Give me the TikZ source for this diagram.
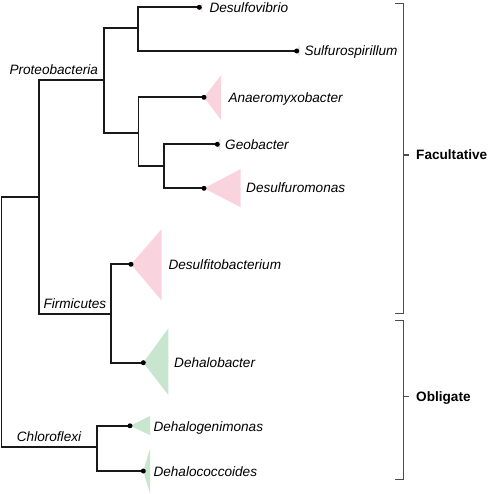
\documentclass[tikz,border=0pt]{standalone}
\usepackage{fontspec}
\setmainfont{Liberation Sans}
\begin{document}
\begin{tikzpicture}[x=1pt,y=-1pt,
  branch/.style={line width=1.75pt, line join=miter, black!90},
  lab/.style={anchor=base west, inner sep=0pt, font=\fontsize{13.6}{16}\selectfont\itshape},
  grp/.style={anchor=base west, inner sep=0pt, font=\fontsize{13.6}{16}\selectfont\bfseries},
  brk/.style={draw=black!70, line width=1.3pt},
  pinktri/.style={fill=pinkc, draw=none},
  greentri/.style={fill=greenc, draw=none},
]
\definecolor{pinkc}{HTML}{F9D4DE}
\definecolor{greenc}{HTML}{C8E6CE}
\useasboundingbox (0,0) rectangle (488,494);

% internal nodes
\coordinate (R) at (1.5,320);
\coordinate (PF) at (39.3,196.7);
\coordinate (Pro) at (104.3,80.3);
\coordinate (Fir) at (111,314);
\coordinate (D1) at (138,28);
\coordinate (D2) at (138.5,132.7);
\coordinate (G) at (164.3,165.7);
\coordinate (C) at (96.7,447);
% tips
\coordinate (tDv) at (199.3,7.3);
\coordinate (tSu) at (296.7,51);
\coordinate (tAn) at (204,97.3);
\coordinate (tGe) at (217.3,144.3);
\coordinate (tDm) at (204,188.3);
\coordinate (tDf) at (131,264.3);
\coordinate (tDb) at (143.3,362.7);
\coordinate (tDg) at (130,425.8);
\coordinate (tDc) at (143.3,471);

% collapsed clade triangles
\fill[pinktri] (tDv) -- ++(3,-5.5) -- ++(0,11) -- cycle;
\fill[pinktri] (tSu) -- ++(3,-6) -- ++(0,12) -- cycle;
\fill[pinktri] (tAn) -- ++(17,-22) -- ++(0,44.7) -- cycle;
\fill[pinktri] (tGe) -- ++(3,-7) -- ++(0,14) -- cycle;
\fill[pinktri] (tDm) -- ++(36.7,-19.3) -- ++(0,38.3) -- cycle;
\fill[pinktri] (tDf) -- ++(30.7,-35.3) -- ++(0,71.7) -- cycle;
\fill[greentri] (tDb) -- ++(25,-34.4) -- ++(0,66.7) -- cycle;
\fill[greentri] (tDg) -- ++(20,-9.8) -- ++(0,19) -- cycle;
\fill[greentri] (tDc) -- ++(6.7,-22.5) -- ++(0,45) -- cycle;

% branches
\draw[branch] (PF) -| (R) |- (C);
\draw[branch] (Pro) -| (PF) |- (Fir);
\draw[branch] (D1) -| (Pro) |- (D2);
\draw[branch] (tDv) -| (D1) |- (tSu);
\draw[branch] (tAn) -| (D2) |- (G);
\draw[branch] (tGe) -| (G) |- (tDm);
\draw[branch] (tDf) -| (Fir) |- (tDb);
\draw[branch] (tDg) -| (C) |- (tDc);

% tip dots
\foreach \t in {tDv,tSu,tAn,tGe,tDm,tDf,tDb,tDg,tDc}
  \fill (\t) circle (2.5);

% tip labels
\node[lab] (lDv) at (209.3,12.6) {Desulfovibrio};
\node[lab] (lSu) at (304.3,55.8) {Sulfurospirillum};
\node[lab] (lAn) at (228.3,102.5) {Anaeromyxobacter};
\node[lab] (lGe) at (225,149.2) {Geobacter};
\node[lab] (lDm) at (246,192.6) {Desulfuromonas};
\node[lab] (lDf) at (168.3,269.3) {Desulfitobacterium};
\node[lab] (lDb) at (174,367.6) {Dehalobacter};
\node[lab] (lDg) at (153.3,431.3) {Dehalogenimonas};
\node[lab] (lDc) at (153.3,476) {Dehalococcoides};

% clade labels
\node[lab] (lPro) at (9.3,74.3) {Proteobacteria};
\node[lab] (lFir) at (43.3,308) {Firmicutes};
\node[lab] (lChl) at (16.7,441.5) {Chloroflexi};

% brackets
\coordinate (fT) at (403.5,3.3);
\coordinate (fB) at (403.5,313.8);
\coordinate (fM) at (403.5,155);
\coordinate (oT) at (403.5,320.7);
\coordinate (oB) at (403.5,479.3);
\coordinate (oM) at (403.5,396.7);
\draw[brk] ([xshift=-8.5pt]fT) -- (fT) -- (fB) -- ([xshift=-8.5pt]fB);
\draw[brk] (fM) -- ++(5,0);
\draw[brk] ([xshift=-8.5pt]oT) -- (oT) -- (oB) -- ([xshift=-8.5pt]oB);
\draw[brk] (oM) -- ++(5,0);
\node[grp] (lFac) at (416,160) {Facultative};
\node[grp] (lObl) at (416,401.5) {Obligate};
\end{tikzpicture}
\end{document}
